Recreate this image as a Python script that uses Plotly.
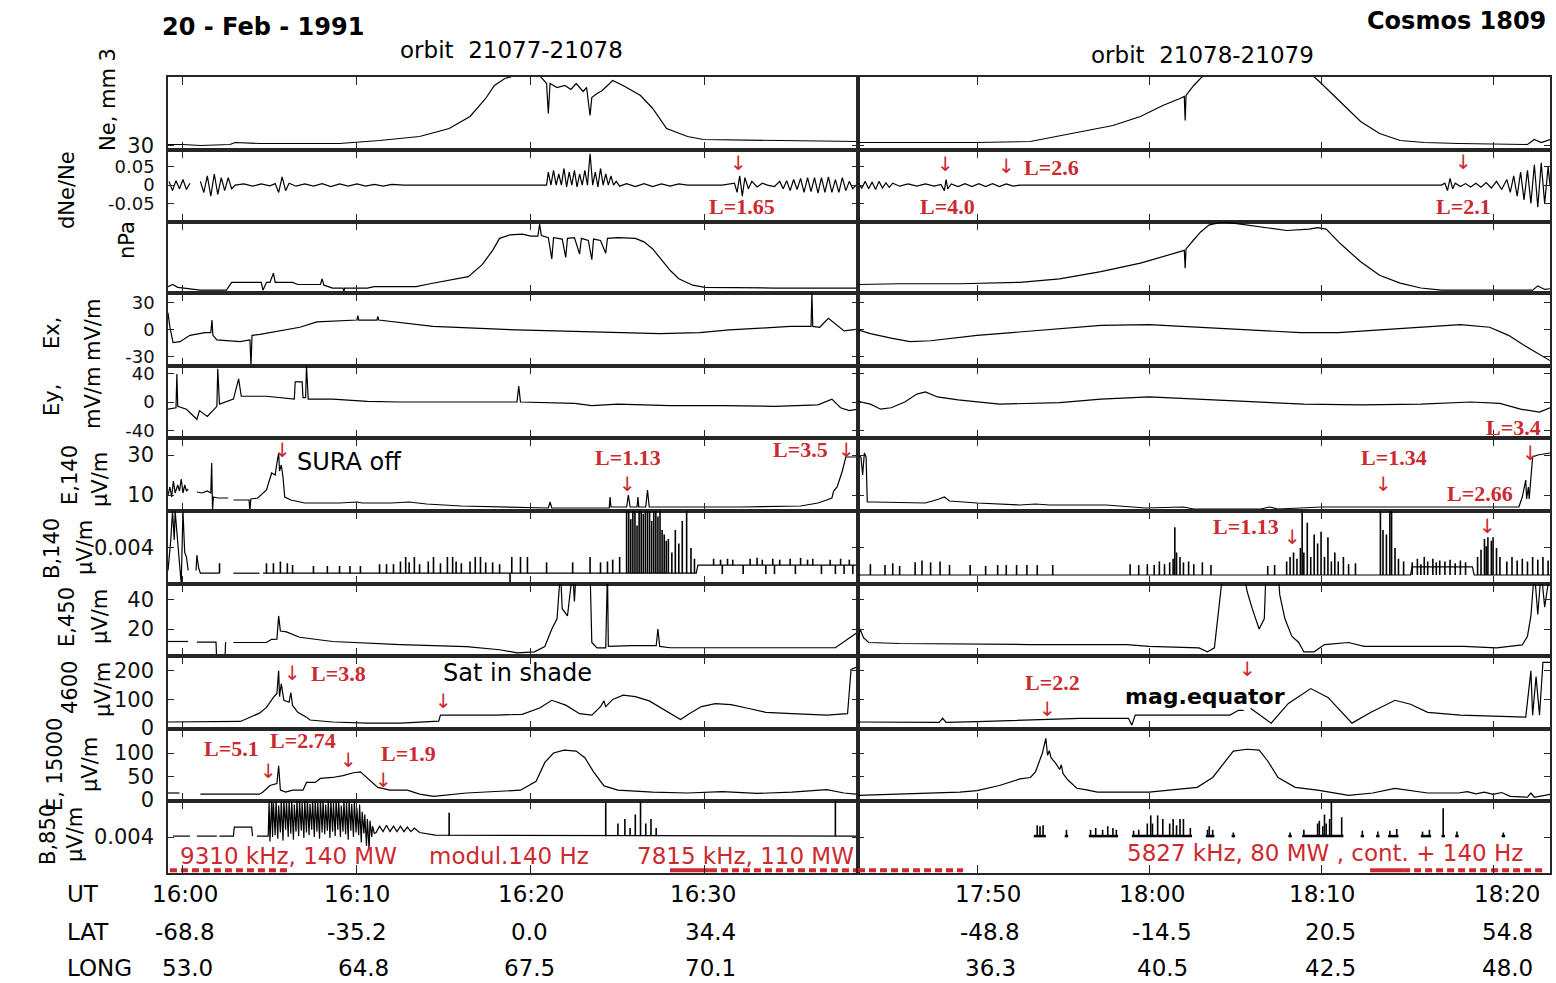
import plotly.graph_objects as go

W, H = 1556, 983

# ---------------- time axes (minutes after first UT tick of each orbit) ----------------
RANGE_L = [-0.86, 38.8]     # 0 = 16:00 UT
RANGE_R = [-6.92, 33.31]    # 0 = 17:50 UT
TICK_MIN = [0, 10, 20, 30]
UT_L = ["16:00", "16:10", "16:20", "16:30"]
LAT_L = ["-68.8", "-35.2", "0.0", "34.4"]
LONG_L = ["53.0", "64.8", "67.5", "70.1"]
UT_R = ["17:50", "18:00", "18:10", "18:20"]
LAT_R = ["-48.8", "-14.5", "20.5", "54.8"]
LONG_R = ["36.3", "40.5", "42.5", "48.0"]

# ---------------- panels ----------------
Y_RANGES = [[25.5, 98.5], [-0.1, 0.095], [0, 1], [-40, 41], [-50, 50], [2, 38.5],
            [0, 0.0081], [1.4, 51], [-3.5, 252], [-2, 151], [0, 0.008]]
Y_TICKVALS = [[30], [0.05, 0, -0.05], [], [30, 0, -30], [40, 0, -40], [30, 10],
              [0.004], [40, 20], [200, 100, 0], [100, 50, 0], [0.004]]
Y_TICKTEXT = [["30"], ["0.05", "0", "-0.05"], [], ["30", "0", "-30"], ["40", "0", "-40"],
              ["30", "10"], ["0.004"], ["40", "20"], ["200", "100", "0"], ["100", "50", "0"], ["0.004"]]

# ---------------- data: (minutes, value); None = gap ----------------
NE_L = [(-0.86, 31), (0, 31), (1.0, 30), (2.7, 31), (3.0, 33), (4.4, 32), (6.7, 32), (9.0, 32), (11.3, 35),
        (13.6, 39), (15.3, 47), (16.5, 59), (17.4, 77), (17.9, 90), (18.5, 97), (19.1, 100), (20.5, 100),
        (20.9, 92), (21.0, 62), (21.1, 92), (21.5, 88), (21.95, 90), (22.3, 86), (22.6, 92), (23.0, 84),
        (23.2, 88), (23.4, 60), (23.5, 78), (23.8, 82), (24.1, 85), (24.7, 95), (25.4, 89), (26.3, 80),
        (27.0, 67), (27.8, 47), (29.0, 39), (29.9, 36), (33.2, 35), (38.8, 34)]
NE_R = [(-6.92, 33), (-3.0, 33), (0.0, 33), (3.1, 34), (6.0, 44), (7.9, 50), (9.5, 59), (10.8, 70), (11.8, 77),
        (12.05, 79), (12.1, 55), (12.15, 80), (12.6, 90), (13.1, 99), (13.5, 100), (19.5, 100), (19.9, 94),
        (21.1, 74), (22.3, 54), (23.4, 42), (24.6, 35), (26.0, 33), (28.0, 32), (32.0, 31), (32.4, 36),
        (32.8, 33), (33.31, 36)]

DNE_L = [(-0.8, 0.01), (-0.6, -0.015), (-0.4, 0.012), (-0.2, -0.01), (0, 0.015), (0.2, -0.012), (0.4, 0.005), None,
         (1.0, 0.01), (1.2, -0.02), (1.4, 0.025), (1.6, -0.03), (1.8, 0.03), (2.0, -0.025), (2.2, 0.02),
         (2.4, -0.015), (2.6, 0.02), (2.8, -0.01), (3.0, 0), (3.5, 0.003), (4.0, -0.003), (4.5, 0.003),
         (5.0, -0.002), (5.3, 0.004), (5.5, -0.02), (5.7, 0.022), (5.9, -0.015), (6.1, 0.005), (6.5, -0.003),
         (7.0, 0.003), (7.5, -0.003), (8.0, 0.004), (8.5, -0.004), (9.0, 0.003), (9.5, -0.003), (10, 0.003),
         (10.5, -0.003), (11, 0.002), (11.5, -0.003), (12, 0.002), (12.7, 0), (20.9, 0),
         (21.0, 0.035), (21.15, 0), (21.3, 0.04), (21.45, 0), (21.6, 0.03), (21.75, 0), (21.9, 0.045),
         (22.05, -0.005), (22.2, 0.035), (22.35, 0), (22.5, 0.04), (22.65, -0.005), (22.8, 0.03), (22.95, 0),
         (23.1, 0.04), (23.25, 0), (23.4, 0.085), (23.55, 0), (23.7, 0.035), (23.85, -0.005), (24.0, 0.045),
         (24.15, 0), (24.3, 0.03), (24.45, 0), (24.6, 0.025), (24.75, 0), (24.9, 0.01), (25.1, -0.003),
         (25.5, 0.004), (26, -0.004), (26.5, 0.004), (27, -0.004), (27.5, 0.003), (28, -0.003), (28.5, 0.003),
         (29, 0), (31, 0), (31.7, 0.005), (31.85, -0.02), (32.0, 0.025), (32.15, -0.03), (32.3, 0.02),
         (32.5, -0.01), (32.7, 0.01), (33, -0.005), (33.3, 0.005), (33.6, 0), (34, -0.004), (34.3, 0.01),
         (34.5, -0.01), (34.7, 0.012), (34.9, -0.015), (35.1, 0.015), (35.3, -0.012), (35.5, 0.018),
         (35.7, -0.02), (35.9, 0.02), (36.1, -0.018), (36.3, 0.02), (36.5, -0.022), (36.7, 0.02), (36.9, -0.02),
         (37.1, 0.022), (37.3, -0.02), (37.5, 0.015), (37.7, -0.02), (37.9, 0.02), (38.1, -0.015), (38.3, 0.01),
         (38.5, -0.01), (38.8, 0.005)]
DNE_R = [(-6.92, 0.005), (-6.7, -0.008), (-6.5, 0.01), (-6.3, -0.01), (-6.1, 0.008), (-5.9, -0.012), (-5.7, 0.01),
         (-5.5, -0.008), (-5.3, 0.006), (-5.1, -0.006), (-4.9, 0.005), (-4.5, -0.003), (-4.0, 0.003), (-3.5, -0.003),
         (-3.0, 0.003), (-2.5, -0.003), (-2.1, 0.002), (-1.9, -0.015), (-1.8, 0.015), (-1.7, -0.01), (-1.5, 0.003),
         (-1.1, -0.004), (-0.7, 0.004), (-0.3, -0.004), (0.1, 0.004), (0.5, -0.004), (0.9, 0.004), (1.3, -0.004),
         (1.7, 0.003), (2.1, -0.003), (2.5, 0.0), (27.0, 0.0), (27.2, 0.005), (27.35, -0.015), (27.5, 0.018),
         (27.65, -0.01), (27.8, 0.005), (28.1, -0.004), (28.4, 0.004), (28.7, -0.005), (29, 0.005), (29.3, -0.006),
         (29.6, 0.007), (29.9, -0.008), (30.2, 0.01), (30.5, -0.012), (30.8, 0.015), (31.0, -0.02), (31.2, 0.025),
         (31.4, -0.03), (31.6, 0.035), (31.8, -0.04), (32.0, 0.04), (32.2, -0.05), (32.4, 0.055), (32.6, -0.06),
         (32.8, 0.06), (33.0, -0.05), (33.2, 0.05), (33.31, 0.0)]

NPA_L = [(-0.86, 0.09), (-0.6, 0.12), (-0.3, 0.08), (0.5, 0.06), (1.0, 0.04), (2.5, 0.04), (2.8, 0.15), (4.5, 0.15),
         (4.6, 0.04), (4.8, 0.15), (5.0, 0.15), (5.2, 0.28), (5.3, 0.15), (6.3, 0.15), (6.6, 0.12), (7.9, 0.12),
         (8.0, 0.2), (8.1, 0.11), (8.6, 0.07), (9.2, 0.07), (9.25, 0.02), (9.3, 0.07), (10.6, 0.07), (11.0, 0.09),
         (13.4, 0.09), (14.2, 0.13), (15.9, 0.2), (16.4, 0.23), (17.2, 0.4), (17.8, 0.6), (18.2, 0.77), (18.8, 0.82),
         (19.5, 0.83), (20.0, 0.80), (20.4, 0.80), (20.5, 0.97), (20.6, 0.81), (21.0, 0.78), (21.2, 0.48),
         (21.3, 0.78), (21.8, 0.76), (22.0, 0.5), (22.1, 0.77), (22.5, 0.78), (22.8, 0.55), (22.9, 0.77),
         (23.3, 0.74), (23.5, 0.47), (23.6, 0.76), (24.0, 0.74), (24.3, 0.56), (24.4, 0.77), (25.0, 0.78),
         (26.0, 0.77), (26.5, 0.72), (27.0, 0.62), (27.5, 0.47), (28.0, 0.32), (28.5, 0.2), (29.3, 0.11),
         (30.0, 0.08), (34.0, 0.07), (38.8, 0.07)]
NPA_R = [(-6.92, 0.12), (-4.5, 0.13), (-1, 0.13), (2.5, 0.15), (4.8, 0.2), (7.2, 0.3), (9.5, 0.42), (11.2, 0.54),
         (12.05, 0.6), (12.1, 0.35), (12.15, 0.62), (12.6, 0.75), (13.0, 0.86), (13.5, 0.96), (14.3, 1.0),
         (15.0, 0.98), (16.5, 0.93), (18.0, 0.88), (19.3, 0.9), (19.8, 0.92), (20.3, 0.9), (21.1, 0.7),
         (22.3, 0.44), (23.4, 0.25), (24.6, 0.14), (25.8, 0.07), (27.0, 0.04), (32.3, 0.04), (32.6, 0.1),
         (33.0, 0.05), (33.31, 0.06)]

EX_L = [(-0.86, 19), (-0.75, 3), (-0.57, -14), (-0.17, -13), (0.4, -6), (1.26, -3), (1.6, -3), (1.67, 11),
        (1.72, -6), (1.95, -11), (3.28, -13), (3.85, -11), (3.91, -40), (3.97, -6), (4.43, -5), (6.72, 3),
        (7.7, 9), (10.0, 11), (10.05, 16), (10.1, 11), (11.15, 11), (11.2, 15), (11.25, 11), (14.37, 4),
        (19.2, 0), (22.8, -2), (25.1, -3), (27.4, -4), (29.7, -3), (31.4, 0), (33.2, 2), (34.9, 4), (36.1, 4),
        (36.15, 41), (36.2, 4), (36.6, 3), (37.1, 13), (37.5, 7), (38.0, -1), (38.8, 1)]
EX_R = [(-6.92, 0), (-6.2, -4), (-5.0, -9), (-3.9, -13), (-2.7, -12), (-1.5, -9), (0, -6), (1.3, -4), (4.8, 1),
        (7.2, 5), (10, 6), (13, 3), (16.5, 0), (18.8, -3), (21, -3), (23.4, 0), (25.8, 3), (28.1, 6), (29.8, 3),
        (30.9, -6), (31.8, -17), (32.6, -26), (33.0, -30), (33.31, -34)]

EY_L = [(-0.86, -10), (-0.4, -8), (-0.35, 39), (-0.3, -6), (0.2, -10), (0.8, -24), (0.95, -12), (1.4, -20),
        (1.95, -6), (2.0, 46), (2.1, -3), (2.9, 4), (3.2, 32), (3.35, 8), (4.8, 8), (6.1, 4), (6.4, 4), (6.45, 28),
        (6.85, 28), (6.9, 6), (7.05, 6), (7.1, 50), (7.2, 4), (8.6, 4), (10.6, 1), (12.5, 0), (16.0, 0), (19.2, 0),
        (19.3, 22), (19.4, 0), (22.5, -2), (23.5, -5), (25.0, -3), (28.0, -5), (31.0, -5), (34.0, -6), (36.5, -4),
        (37.3, 4), (37.8, -8), (38.3, -12), (38.8, -10)]
EY_R = [(-6.92, 1), (-6.2, -3), (-5.6, -10), (-5.0, -8), (-4.2, 0), (-3.5, 11), (-3.0, 14), (-2.3, 7), (-1.1, 3),
        (0, 0), (1.3, -3), (4.8, -1), (7.2, 4), (10, 7), (13, 4), (16, 0), (19, -3), (22.3, -4), (25.8, -3),
        (28.7, 0), (30.4, -2), (31.6, -10), (32.7, -14), (33.31, -8)]

E140_L = [(-0.86, 10), (-0.75, 14), (-0.65, 9), (-0.55, 17), (-0.45, 11), (-0.3, 15), (-0.2, 12), (-0.1, 18),
          (0.0, 11), (0.1, 15), (0.2, 12), (0.3, 13), None, (0.8, 11.5), (1.1, 11), (1.4, 12), (1.6, 11),
          (1.65, 26), (1.7, 2.5), (1.75, 9), (2.0, 8.5), (2.6, 8.5), None, (2.9, 7.5), (3.8, 7.5), (3.85, 2),
          (3.9, 8), (4.3, 8.5), (4.8, 12.5), (5.1, 21), (5.3, 20), (5.4, 26), (5.5, 31), (5.55, 22), (5.65, 25),
          (5.75, 19), (5.85, 9), (6.2, 7.5), (7.0, 6), (9.0, 6), (10.0, 6.5), (10.3, 6), (12.0, 6), (13.0, 6.5),
          (14.0, 5.5), (16.0, 4.5), (18.0, 4), (20.0, 3.5), (21.0, 3.5), (21.1, 6.5), (21.2, 3.5), (24.5, 3.5),
          (24.55, 9), (24.6, 4), (25.5, 4), (25.6, 10), (25.7, 4), (26.1, 4), (26.15, 9), (26.2, 4), (26.6, 4),
          (26.7, 12.5), (26.8, 4), (28.0, 4), (32.0, 4), (35.5, 4.5), (36.5, 6), (37.0, 7.5), (37.3, 8.5),
          (37.4, 12), (37.6, 14), (37.9, 22), (38.1, 29), (38.4, 29), (38.8, 29)]
E140_R = [(-6.92, 30), (-6.75, 29), (-6.65, 20), (-6.55, 31), (-6.45, 29), (-6.38, 6.5), (-6.0, 6.5), (-3.0, 6),
          (-2.2, 8), (-1.9, 9), (-1.6, 7), (0.0, 6), (2.5, 5), (3.4, 5.5), (4.2, 5), (7.5, 5), (9.8, 3.5),
          (11.3, 4), (12.0, 4), (12.6, 3), (16.5, 3), (17.0, 4), (17.5, 3), (18.8, 3.5), (20.0, 4), (25.0, 4),
          (31.5, 4), (31.7, 9), (31.9, 17.5), (31.95, 8), (32.05, 14), (32.1, 8), (32.3, 29), (32.6, 30),
          (33.31, 31)]

B140_L = [(-0.86, 0.0015), (-0.7, 0.0049), (-0.6, 0.0081), (-0.5, 0.0049), (-0.45, 0.0081), (-0.3, 0.0045),
          (-0.1, 0.0), (0.0, 0.0081), (0.1, 0.0035), (0.2, 0.003), (0.3, 0.0015), None, (0.75, 0.0015),
          (0.8, 0.0032), (0.9, 0.0018), (1.0, 0.0012), (2.1, 0.0012), None, (2.9, 0.0012), (4.4, 0.0012), None,
          (4.6, 0.0012), (29.5, 0.0012), (29.6, 0.0021), (38.8, 0.0021)]
B140_L_BASE_A = 0.0012
B140_L_SPIKES_A = [(2.1, .0023), (4.8, .0023), (5.2, .0023), (5.6, .0025), (6.0, .0023), (6.3, .0021), (7.5, .002),
                   (8.3, .002), (9.0, .002), (9.6, .002), (10.2, .002), (11.3, .0022), (11.7, .0022), (12.1, .0022),
                   (12.5, .0025), (12.8, .003), (13.0, .0024), (13.3, .003), (13.6, .0022), (14.1, .0025),
                   (14.4, .003), (14.8, .0023), (15.2, .003), (15.5, .003), (15.7, .0025), (16.0, .0023),
                   (16.5, .0025), (16.8, .003), (17.1, .003), (17.4, .0024), (17.8, .0024), (18.2, .0022),
                   (18.8, 0.0), (18.9, .003), (19.4, .003), (19.8, .003), (20.9, .0024), (22.4, .0024),
                   (23.4, .003), (24.0, .0024), (24.4, .0025), (24.7, .0027), (25.1, .003), (25.5, .0081),
                   (25.62, .0081), (25.74, .0072), (25.86, .0081), (25.98, .0081), (26.1, .0065), (26.22, .0081),
                   (26.34, .0081), (26.46, .0078), (26.58, .0081), (26.7, .0081), (26.82, .0081), (26.94, .007),
                   (27.06, .0081), (27.18, .0081), (27.3, .0075), (27.42, .0081), (27.54, .006), (27.66, .0055),
                   (27.78, .0048), (27.9, .005), (28.1, .0035), (28.3, .006), (28.5, .0045), (28.7, .007),
                   (28.95, .0081), (29.2, .004), (29.4, .0028)]
B140_L_BASE_B = 0.0021
B140_L_SPIKES_B = [(30.5, .0028), (30.9, .0027), (31.0, .0011), (31.3, .0028), (31.6, .0027), (32.2, .0011),
                   (32.6, .0028), (33.0, .0029), (33.3, .0027), (33.5, .0011), (33.9, .0028), (34.0, .0011),
                   (34.3, .0027), (34.9, .0028), (35.2, .0011), (35.5, .0029), (35.9, .0027), (36.2, .0028),
                   (36.7, .0011), (37.2, .0027), (37.5, .0011), (37.8, .0028), (38.0, .0011), (38.3, .0027),
                   (38.5, .0011)]
B140_R = [(-6.92, .001), (25.2, .001), (25.3, .0019), (28.8, .0019), (28.9, .001), (33.31, .001)]
B140_R_BASE = 0.001
B140_R_SPIKES = [(-6.2, .0022), (-5.35, .0021), (-4.9, .0023), (-4.5, .002), (-3.6, .0024), (-3.2, .0026),
                 (-2.7, .0024), (-2.15, .0025), (-1.6, .0021), (-0.4, .0021), (0.5, .002), (1.2, .0021), (1.7, .0021),
                 (2.3, .0021), (2.9, .0021), (3.5, .0021), (4.4, .0021), (8.9, .0022), (9.4, .0021), (9.9, .0022),
                 (10.3, .0021), (10.6, .0025), (10.9, .0022), (11.2, .0024), (11.4, .0028), (11.5, .0063),
                 (11.6, .0035), (11.8, .003), (12.0, .0024), (12.3, .0025), (12.6, .0022), (13.1, .0024),
                 (13.6, .0021), (16.9, .002), (17.3, .0021), (18.0, .0025), (18.2, .003), (18.4, .0035),
                 (18.6, .0028), (18.8, .004), (18.9, .0081), (19.0, .0035), (19.2, .0068), (19.4, .003),
                 (19.6, .0055), (19.8, .0045), (20.0, .0058), (20.2, .003), (20.4, .0052), (20.6, .0025),
                 (20.8, .0035), (21.0, .0025), (21.3, .003), (21.6, .0022), (22.0, .0023), (23.45, .0081),
                 (23.6, .006), (23.8, .0055), (24.0, .0081), (24.1, .0081), (24.3, .004), (24.5, .0028),
                 (24.8, .0025), (25.3, .0024), (25.6, .0028), (25.8, .0022), (26.0, .003), (26.2, .0025),
                 (26.5, .0028), (26.7, .0024), (26.9, .0026), (27.2, .0025), (27.5, .0027), (27.8, .0023),
                 (28.1, .0026), (28.4, .0024), (29.1, .003), (29.3, .0038), (29.5, .005), (29.6, .0042),
                 (29.7, .0052), (29.9, .0048), (30.0, .0052), (30.2, .004), (30.4, .003), (30.8, .0025),
                 (31.1, .003), (31.4, .0026), (31.7, .0028), (32.0, .0025), (32.3, .003), (32.6, .0027),
                 (32.9, .003), (33.2, .0026)]

E450_L = [(-0.86, 11.4), (0.3, 11.4), None, (0.8, 11), (1.9, 11), (1.95, -5), (2.4, -5), (2.45, 11), None,
          (2.9, 10.7), (4.8, 10.7), (5.1, 12.9), (5.4, 13), (5.5, 29), (5.6, 18.6), (5.95, 18), (6.7, 14.3),
          (8.6, 11.4), (12.5, 9.3), (16.3, 7.9), (18.2, 5.7), (19.2, 3.6), (20.2, 4.3), (20.8, 7.9), (21.2, 20),
          (21.5, 27), (21.7, 60), (21.8, 34), (22.1, 29), (22.4, 60), (22.5, 39), (22.6, 60), (23.4, 60),
          (23.5, 10.7), (23.8, 7), (24.3, 7), (24.4, 60), (24.45, 8), (25.8, 8.5), (27.2, 8.5), (27.3, 20),
          (27.4, 8), (28.0, 7.1), (37.5, 7.1), (38.2, 12.9), (38.8, 18)]
E450_R = [(-6.92, 12), (-6.8, 20), (-6.6, 14), (-6.3, 10.7), (-4.5, 10), (-1, 9.5), (3, 9.3), (8.7, 9.3), (10, 8),
          (12.9, 7), (13.4, 4.3), (13.8, 7), (14.0, 29), (14.3, 60), (15.5, 60), (15.7, 46), (16.0, 34),
          (16.4, 20), (16.7, 27), (16.8, 60), (17.5, 60), (17.6, 43.5), (17.9, 27), (18.3, 15), (18.7, 10.7),
          (19.0, 4.3), (19.6, 4.3), (20.2, 9.3), (21.6, 10.7), (22.5, 8), (28.3, 8), (30.2, 7), (31.7, 9),
          (32.0, 15), (32.2, 29), (32.4, 60), (32.6, 30), (32.8, 60), (33.0, 35), (33.31, 60)]

F4600_L = [(-0.86, 21), (2.9, 21), (3.3, 23), (4.4, 52), (4.8, 72), (5.2, 107), (5.4, 121), (5.5, 200),
           (5.55, 110), (5.65, 155), (5.8, 97), (6.1, 90), (6.2, 124), (6.3, 79), (6.6, 55), (7.1, 38), (7.3, 28),
           (8.6, 21), (10.6, 17), (12.5, 17), (14.4, 24), (14.7, 24), (14.8, 45), (16.0, 45), (18.0, 45),
           (19.5, 48), (20.5, 70), (21.2, 97), (22.0, 80), (22.8, 50), (23.5, 45), (24.0, 75), (24.2, 95),
           (24.3, 75), (24.7, 100), (25.3, 115), (26.0, 110), (26.8, 95), (27.5, 70), (28.1, 50), (28.6, 30),
           (29.1, 50), (29.8, 75), (30.6, 85), (31.5, 82), (32.4, 70), (33.5, 55), (35.0, 50), (37.0, 45),
           (38.2, 50), (38.4, 205), (38.8, 215)]
F4600_R = [(-6.92, 21), (-5, 20), (-2.2, 20), (-2.0, 34), (-1.8, 20), (0, 22), (3, 28), (5.0, 30), (6, 34),
           (8.8, 34), (9.0, 10), (9.2, 45), (12, 45), (14.7, 45), (15.2, 62), (15.5, 62), None, (15.9, 69),
           (17.1, 17), (18.1, 86), (19.4, 138), (20.4, 107), (21.8, 17), (22.9, 55), (24.3, 97), (25.2, 83),
           (26.2, 55), (28.1, 45), (31.9, 38), (32.2, 200), (32.3, 45), (32.5, 180), (32.7, 45), (32.9, 230),
           (33.31, 230)]

E15000_L = [(-0.86, 15), (-0.2, 15), None, (1.0, 12.5), (4.4, 12.5), (4.6, 17), (5.0, 31), (5.4, 35), (5.5, 73),
            (5.6, 21), (5.9, 17), (6.3, 21), (6.9, 21), (7.1, 37.5), (7.6, 37.5), (7.9, 46), (8.6, 48), (9.2, 52),
            (9.8, 58), (10.2, 60), (10.6, 46), (11.2, 27), (11.9, 21), (12.9, 21), (13.6, 12.5), (14.4, 8),
            (16.3, 15), (19.4, 21), (20.3, 40), (20.8, 80), (21.3, 100), (21.9, 106), (22.6, 104), (23.1, 90),
            (23.6, 60), (24.2, 30), (25, 21), (27, 17), (29, 15), (31, 18), (33, 14), (35, 17), (37, 22),
            (38, 15), (38.8, 12)]
E15000_R = [(-6.92, 10), (-4.5, 13), (-1, 17), (0, 20), (1.3, 31), (2.5, 45), (3.1, 48), (3.4, 60), (3.5, 70),
            (3.6, 83), (3.8, 100), (4.0, 131), (4.1, 95), (4.2, 105), (4.3, 90), (4.6, 77), (4.8, 65), (4.9, 75),
            (5.0, 56), (5.3, 42), (5.6, 33), (5.8, 25), (6.3, 22), (7.0, 17), (10, 17), (12.8, 27), (13.7, 48),
            (14.3, 77), (14.9, 104), (15.7, 108), (16.4, 106), (16.9, 83), (17.5, 48), (18.5, 27), (19.8, 21),
            (21.6, 10), (23, 15), (24.3, 25), (26.2, 15), (28, 15), (28.5, 18), (29, 13), (29.5, 17), (30, 12),
            (30.5, 16), (31, 8), (32, 6), (32.2, 15), (32.4, 6), (33.31, 12)]

B850_L = [(-0.57, .0041), (0.4, .0041), None, (0.8, .0041), (1.95, .0041), None, (2.1, .0041), (2.9, .0041),
          (2.95, .0051), (3.95, .0051), (4.0, .0041), None, (4.25, .0041), (4.8, .0041),
          (4.9, .0041), (4.95, .0081), (5.0, .0035), (5.1, .0081), (5.15, .004), (5.2, .0078), (5.3, .0042),
          (5.35, .0081), (5.45, .0038), (5.5, .0075), (5.6, .0045), (5.65, .0081), (5.75, .0036), (5.8, .0081),
          (5.9, .0048), (5.95, .0079), (6.05, .0040), (6.1, .0081), (6.2, .0044), (6.25, .0081), (6.35, .0037),
          (6.4, .0076), (6.5, .0046), (6.55, .0081), (6.65, .0041), (6.7, .0081), (6.8, .0047), (6.85, .0078),
          (6.95, .0039), (7.0, .0081), (7.1, .0045), (7.15, .0081), (7.25, .0042), (7.3, .0077), (7.4, .0048),
          (7.45, .0081), (7.55, .0040), (7.6, .0081), (7.7, .0046), (7.75, .0079), (7.85, .0038), (7.9, .0081),
          (8.0, .0045), (8.05, .0081), (8.15, .0043), (8.2, .0076), (8.3, .0047), (8.35, .0081), (8.45, .0039),
          (8.5, .0081), (8.6, .0046), (8.65, .0078), (8.75, .0041), (8.8, .0081), (8.9, .0048), (8.95, .0081),
          (9.05, .0040), (9.1, .0075), (9.2, .0046), (9.25, .0081), (9.35, .0043), (9.4, .0079), (9.5, .0037),
          (9.55, .0081), (9.65, .0047), (9.7, .0077), (9.8, .0040), (9.85, .0081), (9.95, .0045), (10.0, .0072),
          (10.1, .0042), (10.15, .0076), (10.25, .0034), (10.3, .0068), (10.4, .0044), (10.45, .0065),
          (10.55, .0030), (10.6, .0060), (10.7, .0026), (10.75, .0058), (10.85, .0040), (10.9, .0052),
          (11.0, .0044), (11.1, .0045), (11.3, .0052), (11.5, .0046), (11.7, .0053), (11.9, .0046), (12.1, .0052),
          (12.3, .0046), (12.5, .0052), (12.7, .0046), (12.9, .0051), (13.1, .0046), (13.3, .005), (13.6, .0045),
          (14.0, .0044), (14.5, .0042), (38.8, .0041)]
B850_L_BASE = 0.0041
B850_L_SPIKES = [(15.3, .0067), (24.3, .0078), (25.0, .0055), (25.4, .006), (25.7, .005), (26.0, .0065),
                 (26.3, .0079), (26.6, .0055), (26.9, .006), (27.2, .005), (37.5, .0081)]
B850_R_BASE = 0.0041
B850_R_BASE_SEGS = [(3.3, 4.0), (5.1, 5.3), (6.5, 8.2), (9.0, 12.5), (13.3, 13.8), (14.8, 15.0), (18.1, 18.3),
                    (18.9, 21.3), (22.3, 22.5), (23.2, 23.4), (23.9, 24.5), (25.8, 26.4), (27.0, 27.2),
                    (27.8, 28.0), (30.5, 30.7)]
B850_R_SPIKES = [(3.5, .0053), (3.66, .0052), (3.84, .0053), (5.2, .0048), (6.6, .0048), (6.9, .005), (7.3, .0048),
                 (7.6, .0052), (7.9, .005), (8.1, .0048), (9.1, .0047), (9.4, .0048), (9.9, .0055), (10.1, .0064),
                 (10.2, .0055), (10.5, .0064), (10.8, .006), (11.2, .0055), (11.4, .006), (11.6, .0053),
                 (11.8, .006), (12.0, .006), (12.4, .005), (13.4, .0048), (13.5, .0052), (13.7, .0048),
                 (14.9, .0045), (18.2, .0045), (19.0, .0048), (19.8, .0055), (19.9, .0058), (20.1, .0052),
                 (20.2, .0065), (20.3, .0055), (20.5, .006), (20.6, .0079), (21.2, .0062), (22.4, .0047),
                 (23.3, .0046), (24.0, .0047), (24.4, .0049), (25.9, .0046), (26.3, .0048), (27.1, .0072),
                 (27.9, .0046), (30.6, .0045)]

# heater intervals (minutes) shown as red bars at the bottom
HEAT_L_DASHED = [(-0.75, 5.98), (30.29, 38.8)]
HEAT_L_SOLID = [(27.99, 30.29)]
HEAT_R_DASHED = [(-6.92, -0.81), (24.77, 32.85)]
HEAT_R_SOLID = [(22.85, 24.77)]
HEAT_LEVEL = 0.0003

SERIES = [(NE_L, NE_R), (DNE_L, DNE_R), (NPA_L, NPA_R), (EX_L, EX_R), (EY_L, EY_R), (E140_L, E140_R),
          (B140_L, B140_R), (E450_L, E450_R), (F4600_L, F4600_R), (E15000_L, E15000_R), (B850_L, None)]

# ---------------- layout constants ----------------
ROW_EDGES_PX = [77, 150, 222, 293, 366, 438, 511, 584, 656, 729, 801, 873]
COL_EDGES_PX = [168, 858, 1550]
SANS = "Liberation Sans, Arial, sans-serif"
WIDE = "DejaVu Sans, Verdana, sans-serif"
SERIF = "Liberation Serif, Times New Roman, serif"
RED = "#cc2a2f"
AXC = "#262626"


def ax_names(r, c):
    n = r * 2 + c + 1
    return ("x" if n == 1 else f"x{n}"), ("y" if n == 1 else f"y{n}"), n


def unzip(pts):
    xs, ys = [], []
    for p in pts:
        if p is None:
            xs.append(None); ys.append(None)
        else:
            xs.append(p[0]); ys.append(p[1])
    return xs, ys


def spike_xy(lst, base):
    xs, ys = [], []
    for t, v in lst:
        xs += [t, t, None]; ys += [base, v, None]
    return xs, ys


fig = go.Figure()
LINE = dict(color="black", width=1.2)

for r, (sl, sr) in enumerate(SERIES):
    for c, s in enumerate((sl, sr)):
        if s is None:
            continue
        xa, ya, _ = ax_names(r, c)
        x, y = unzip(s)
        fig.add_trace(go.Scatter(x=x, y=y, mode="lines", line=LINE, xaxis=xa, yaxis=ya, hoverinfo="skip"))

SPIKE_SETS = [(6, 0, B140_L_SPIKES_A, B140_L_BASE_A), (6, 0, B140_L_SPIKES_B, B140_L_BASE_B),
              (6, 1, B140_R_SPIKES, B140_R_BASE), (10, 0, B850_L_SPIKES, B850_L_BASE),
              (10, 1, B850_R_SPIKES, B850_R_BASE)]
for r, c, lst, base in SPIKE_SETS:
    xa, ya, _ = ax_names(r, c)
    x, y = spike_xy(lst, base)
    fig.add_trace(go.Scatter(x=x, y=y, mode="lines", line=dict(color="black", width=1.6),
                             xaxis=xa, yaxis=ya, hoverinfo="skip"))

# B850 right baseline dashes
xa, ya, _ = ax_names(10, 1)
bx, by = [], []
for t0, t1 in B850_R_BASE_SEGS:
    bx += [t0, t1, None]; by += [B850_R_BASE, B850_R_BASE, None]
fig.add_trace(go.Scatter(x=bx, y=by, mode="lines", line=dict(color="black", width=2.5),
                         xaxis=xa, yaxis=ya, hoverinfo="skip"))

# heater bars
for c, dashed, solid in ((0, HEAT_L_DASHED, HEAT_L_SOLID), (1, HEAT_R_DASHED, HEAT_R_SOLID)):
    xa, ya, _ = ax_names(10, c)
    for segs, dash in ((dashed, "7px,4px"), (solid, "solid")):
        hx, hy = [], []
        for t0, t1 in segs:
            hx += [t0, t1, None]; hy += [HEAT_LEVEL, HEAT_LEVEL, None]
        fig.add_trace(go.Scatter(x=hx, y=hy, mode="lines", line=dict(color=RED, width=4, dash=dash),
                                 xaxis=xa, yaxis=ya, hoverinfo="skip"))

layout = dict(width=W, height=H, margin=dict(l=0, r=0, t=0, b=0), template="none",
              paper_bgcolor="white", plot_bgcolor="white", showlegend=False,
              font=dict(family=SANS, color="black"))
for r in range(11):
    y0, y1 = ROW_EDGES_PX[r], ROW_EDGES_PX[r + 1]
    for c in range(2):
        xa, ya, n = ax_names(r, c)
        xk = "xaxis" if n == 1 else f"xaxis{n}"
        yk = "yaxis" if n == 1 else f"yaxis{n}"
        layout[xk] = dict(domain=[COL_EDGES_PX[c] / W, COL_EDGES_PX[c + 1] / W],
                          range=RANGE_L if c == 0 else RANGE_R, anchor=ya, tickvals=TICK_MIN,
                          ticks="inside", ticklen=8, tickwidth=1.3, tickcolor=AXC, showline=True,
                          mirror="ticks", linecolor=AXC, linewidth=1.6, showticklabels=False,
                          showgrid=False, zeroline=False, fixedrange=True, automargin=False)
        layout[yk] = dict(domain=[1 - y1 / H, 1 - y0 / H], range=Y_RANGES[r], anchor=xa,
                          tickvals=Y_TICKVALS[r], ticktext=Y_TICKTEXT[r], ticks="inside", ticklen=6,
                          tickwidth=1.3, tickcolor=AXC, showline=True, mirror="ticks", linecolor=AXC,
                          linewidth=1.6, showticklabels=(c == 0), ticklabelstandoff=8,
                          tickfont=dict(family=WIDE, size=(18 if r in (1, 3, 4) else 21), color="#111"),
                          showgrid=False, zeroline=False, fixedrange=True, automargin=False)
fig.update_layout(**layout)


def P(x, y):
    return x / W, 1 - y / H


anns = []


def add(text, x, y, size, color="black", family=WIDE, xanchor="center", angle=0):
    px, py = P(x, y)
    anns.append(dict(text=text, x=px, y=py, xref="paper", yref="paper", showarrow=False,
                     xanchor=xanchor, yanchor="middle", textangle=angle,
                     font=dict(family=family, size=size, color=color)))


# titles
add("<b>20 - Feb - 1991</b>", 160, 27, 24, xanchor="left")
add("orbit  21077-21078", 512, 50, 23)
add("orbit  21078-21079", 1202, 55, 23)
add("<b>Cosmos 1809</b>", 1548, 21, 24, xanchor="right")

# rotated panel labels
for text, x, y in [("Ne, mm 3", 108, 100), ("dNe/Ne", 67, 190), ("nPa", 127, 240), ("Ex,", 52, 333),
                   ("mV/m", 93, 330), ("Ey,", 52, 400), ("mV/m", 93, 398), ("E,140", 70, 475),
                   ("μV/m", 100, 480), ("B,140", 52, 548), ("μV/m", 85, 548), ("E,450", 67, 617),
                   ("μV/m", 100, 617), ("4600", 70, 688), ("μV/m", 103, 690), ("E, 15000", 55, 765),
                   ("μV/m", 90, 765), ("B,850", 48, 835), ("μV/m", 75, 835)]:
    add(text, x, y, 21, angle=-90)

# red L-shell labels and arrows
for text, x, y in [("L=1.65", 742, 207), ("L=4.0", 947, 207), ("L=2.6", 1051, 168), ("L=2.1", 1463, 207),
                   ("L=1.13", 628, 457), ("L=3.5", 801, 450), ("L=1.34", 1394, 457), ("L=3.4", 1513, 427),
                   ("L=2.66", 1480, 494), ("L=1.13", 1246, 526), ("L=3.8", 338, 673), ("L=2.2", 1052, 682),
                   ("L=5.1", 231, 748), ("L=2.74", 303, 740), ("L=1.9", 408, 753)]:
    add("<b>" + text + "</b>", x, y, 22, color=RED, family=SERIF)
for x, y in [(738, 163), (946, 164), (1006, 166), (1463, 162), (282, 450), (627, 484), (846, 450), (1383, 484),
             (1530, 453), (1292, 537), (1487, 526), (292, 673), (443, 701), (1047, 709), (1247, 669),
             (268, 771), (348, 760), (383, 780)]:
    add("↓", x, y, 20, color=RED)

# black notes
add("SURA off", 349, 462, 24)
add("Sat in shade", 517, 673, 24)
add("<b>mag.equator</b>", 1205, 696, 22)

# heater notes
add("9310 kHz, 140 MW", 288, 856, 23, color=RED)
add("modul.140 Hz", 509, 856, 23, color=RED)
add("7815 kHz, 110 MW", 745, 856, 23, color=RED)
add("5827 kHz, 80 MW , cont. + 140 Hz", 1325, 853, 23, color=RED)

# bottom UT / LAT / LONG rows
ROW_Y = [894, 932, 968]
for name, y in zip(["UT", "LAT", "LONG"], ROW_Y):
    add(name, 65, y, 23, xanchor="left")
CENTERS_L = [[185, 357, 531, 703], [185, 357, 529, 710], [187, 363, 529, 710]]
CENTERS_R = [[988, 1152, 1322, 1507], [990, 1162, 1330, 1507], [990, 1162, 1330, 1507]]
for rowvals_l, rowvals_r, cl, cr, y in zip([UT_L, LAT_L, LONG_L], [UT_R, LAT_R, LONG_R], CENTERS_L, CENTERS_R, ROW_Y):
    for txt, x in zip(rowvals_l, cl):
        add(txt, x, y, 23)
    for txt, x in zip(rowvals_r, cr):
        add(txt, x, y, 23)

fig.update_layout(annotations=anns)
fig.write_html("out.html", include_plotlyjs=True, full_html=True, config={"displayModeBar": False},
               post_script="document.body.style.margin='0';document.body.style.overflow='hidden';")
